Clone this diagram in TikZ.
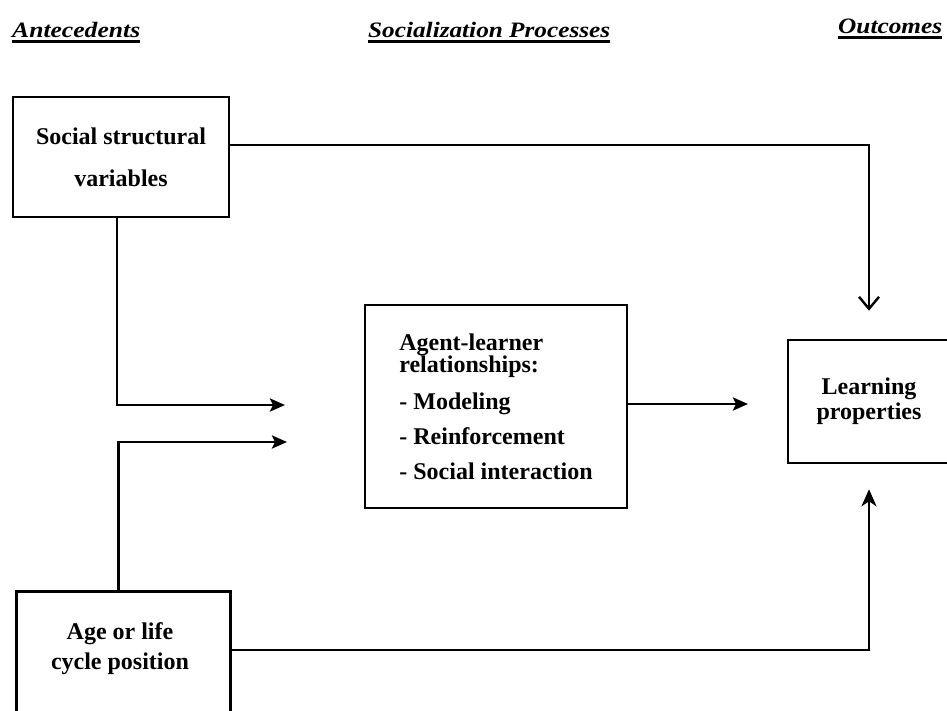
\documentclass[tikz,border=0pt]{standalone}
\usepackage{fontspec}
\setmainfont{Liberation Serif}
\usetikzlibrary{arrows.meta}
\setlength{\lineskiplimit}{-50pt}
\newcommand\hdrul[2]{\setbox0\hbox{\resizebox{#1}{\height}{#2}}\rlap{\rule[-6pt]{\wd0}{2.6pt}}\box0}
\tikzset{
  box/.style={draw, line width=2.6pt, rectangle, inner sep=0pt, align=center,
    font=\bfseries\fontsize{24}{24}\selectfont},
  boxtext/.style={inner sep=0pt, align=center,
    font=\bfseries\fontsize{24}{30}\selectfont},
  hdr/.style={inner sep=0pt, anchor=base west, font=\bfseries\itshape\fontsize{22}{22}\selectfont},
  conn/.style={line width=2.6pt},
  harr/.style={conn, -{Stealth[length=15pt, width=13pt, inset=3pt]}},
  varr/.style={conn, -{Straight Barb[length=12pt, width=20pt, line width=2.4pt]}},
  uarr/.style={conn, -{Stealth[length=17pt, width=15pt, inset=5pt]}}
}
\begin{document}
\begin{tikzpicture}[x=1pt, y=-1pt]
\useasboundingbox (0,0) rectangle (947,710);
\clip (0,0) rectangle (947,710);
\fill[white] (0,0) rectangle (947,710);

% headers
\node[hdr] (h1) at (12,37) {\hdrul{128pt}{Antecedents}};
\node[hdr] (h2) at (368,37) {\hdrul{242pt}{Socialization Processes}};
\node[hdr] (h3) at (838,33) {\hdrul{104pt}{Outcomes}};

% boxes
\node[box, minimum width=216pt, minimum height=120pt,
  font=\bfseries\fontsize{24}{42}\selectfont]
  (ss) at (121,157) {Social structural\\variables};
\node[box, minimum width=262pt, minimum height=203pt, align=left,
  font=\bfseries\fontsize{24}{22}\selectfont]
  (ag) at (496,406.5) {Agent-learner\\relationships:\\[15pt]- Modeling\\[13pt]- Reinforcement\\[13pt]- Social interaction};
\node[box, minimum width=162pt, minimum height=123pt,
  font=\bfseries\fontsize{24}{25}\selectfont]
  (lp) at (869,401.5) {Learning\\properties};
\node[box, minimum width=214pt, minimum height=200pt, anchor=north west]
  (age) at (15,590) {};
\node[boxtext] (agetxt) at (120,649) {Age or life\\cycle position};

% free ends
\coordinate (in1) at (285,405);
\coordinate (in2) at (287,442);
\coordinate (out1) at (748,404);

% connectors
\draw[varr] ([yshift=12pt]ss.east) -| ([yshift=28pt]lp.north);
\draw[harr] ([xshift=-4pt]ss.south) |- (in1);
\draw[harr] ([xshift=-5pt]age.north) |- (in2);
\draw[harr] (ag.east |- out1) -- (out1);
\draw[uarr] ([yshift=-60pt]age.north east) -| ([yshift=-25pt]lp.south);
\end{tikzpicture}
\end{document}
